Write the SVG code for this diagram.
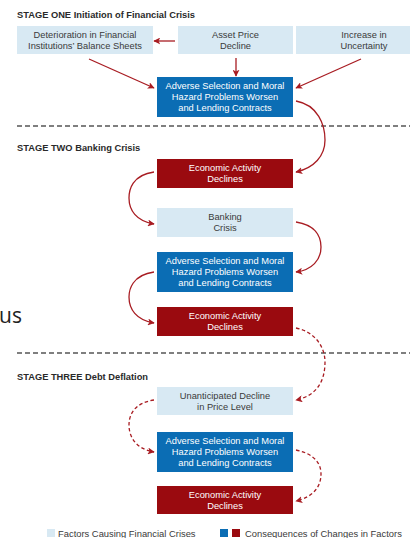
<svg xmlns="http://www.w3.org/2000/svg" width="414" height="538" viewBox="0 0 414 538">
<defs>
<style>
.t{font-family:"Liberation Sans",Arial,sans-serif;font-size:9.3px;text-anchor:middle}
.dk{fill:#3a3a3a}
.wh{fill:#ffffff}
.h{font-family:"Liberation Sans",Arial,sans-serif;font-size:9.3px;font-weight:bold;fill:#2a2a2a}
.lg{font-family:"Liberation Sans",Arial,sans-serif;font-size:9.4px;fill:#3a3a3a}
.lb{fill:#d8e9f3}
.bl{fill:#0b6db4}
.rd{fill:#9a0a0f}
.sep{stroke:#555;stroke-width:1.4;stroke-dasharray:5 3;fill:none}
.a{stroke:#a81c22;stroke-width:1.3;fill:none;marker-end:url(#ah)}
.d{stroke-dasharray:3.5 2.5}
</style>
<marker id="ah" viewBox="0 0 10 10" refX="9" refY="5" markerWidth="7" markerHeight="7" markerUnits="userSpaceOnUse" orient="auto">
<path d="M0,0 L10,5 L0,10 L2.5,5 Z" fill="#a81c22"/>
</marker>
</defs>
<rect width="414" height="538" fill="#ffffff"/>
<text x="-1" y="323" font-family="'Open Sans',sans-serif" font-size="21" fill="#222">us</text>

<text class="h" x="17" y="18">STAGE ONE Initiation of Financial Crisis</text>
<text class="h" x="17" y="151">STAGE TWO Banking Crisis</text>
<text class="h" x="17" y="380">STAGE THREE Debt Deflation</text>

<line class="sep" x1="17" y1="126" x2="410" y2="126"/>
<line class="sep" x1="17" y1="353" x2="410" y2="353"/>

<g id="n1"><rect class="lb" x="17" y="26" width="136" height="28"/><text class="t dk" x="85" y="38">Deterioration in Financial</text><text class="t dk" x="85" y="49">Institutions’ Balance Sheets</text></g>
<g id="n2"><rect class="lb" x="178" y="26" width="115" height="28"/><text class="t dk" x="235.5" y="38">Asset Price</text><text class="t dk" x="235.5" y="49">Decline</text></g>
<g id="n3"><rect class="lb" x="296" y="26" width="114" height="28"/><text class="t dk" x="364" y="38">Increase in</text><text class="t dk" x="364" y="49">Uncertainty</text></g>
<g id="n4"><rect class="bl" x="157" y="77" width="136" height="40"/><text class="t wh" x="225" y="89">Adverse Selection and Moral</text><text class="t wh" x="225" y="100">Hazard Problems Worsen</text><text class="t wh" x="225" y="111">and Lending Contracts</text></g>

<g id="n5"><rect class="rd" x="157" y="159" width="136" height="29"/><text class="t wh" x="225" y="171">Economic Activity</text><text class="t wh" x="225" y="182">Declines</text></g>
<g id="n6"><rect class="lb" x="157" y="208" width="136" height="29"/><text class="t dk" x="225" y="220">Banking</text><text class="t dk" x="225" y="231">Crisis</text></g>
<g id="n7"><rect class="bl" x="157" y="252" width="136" height="40"/><text class="t wh" x="225" y="264">Adverse Selection and Moral</text><text class="t wh" x="225" y="275">Hazard Problems Worsen</text><text class="t wh" x="225" y="286">and Lending Contracts</text></g>
<g id="n8"><rect class="rd" x="157" y="307" width="136" height="29"/><text class="t wh" x="225" y="319">Economic Activity</text><text class="t wh" x="225" y="330">Declines</text></g>

<g id="n9"><rect class="lb" x="157" y="387" width="136" height="28"/><text class="t dk" x="225" y="399">Unanticipated Decline</text><text class="t dk" x="225" y="410">in Price Level</text></g>
<g id="n10"><rect class="bl" x="157" y="432" width="136" height="40"/><text class="t wh" x="225" y="444">Adverse Selection and Moral</text><text class="t wh" x="225" y="455">Hazard Problems Worsen</text><text class="t wh" x="225" y="466">and Lending Contracts</text></g>
<g id="n11"><rect class="rd" x="157" y="486" width="136" height="28"/><text class="t wh" x="225" y="498">Economic Activity</text><text class="t wh" x="225" y="509">Declines</text></g>

<g id="connectors">
<path class="a" d="M175,41 L154,41"/>
<path class="a" d="M236,58 L236,76"/>
<path class="a" d="M89,59 L154,88"/>
<path class="a" d="M361,59 L296,88"/>
<path class="a" d="M296,101 C318,105 325,125 325,140 C325,156 314,168 296,172"/>
<path class="a" d="M154,172 C132,175 129,190 129,198 C129,210 136,221 154,224"/>
<path class="a" d="M296,222 C315,225 321,236 321,247 C321,260 312,270 296,272"/>
<path class="a" d="M154,272 C132,275 129,290 129,297 C129,309 136,320 154,323"/>
<path class="a d" d="M296,328 C316,332 325,348 325,362 C325,382 316,396 296,400"/>
<path class="a d" d="M154,400 C134,403 129,415 129,425 C129,437 136,449 154,452"/>
<path class="a d" d="M296,450 C315,454 321,464 321,474 C321,487 313,497 296,501"/>
</g>

<g id="legend">
<rect class="lb" x="47" y="529" width="8" height="8"/>
<text class="lg" x="58" y="536.5">Factors Causing Financial Crises</text>
<rect class="bl" x="220" y="529" width="8" height="8"/>
<rect class="rd" x="232" y="529" width="8" height="8"/>
<text class="lg" x="245" y="536.5">Consequences of Changes in Factors</text>
</g>
</svg>
